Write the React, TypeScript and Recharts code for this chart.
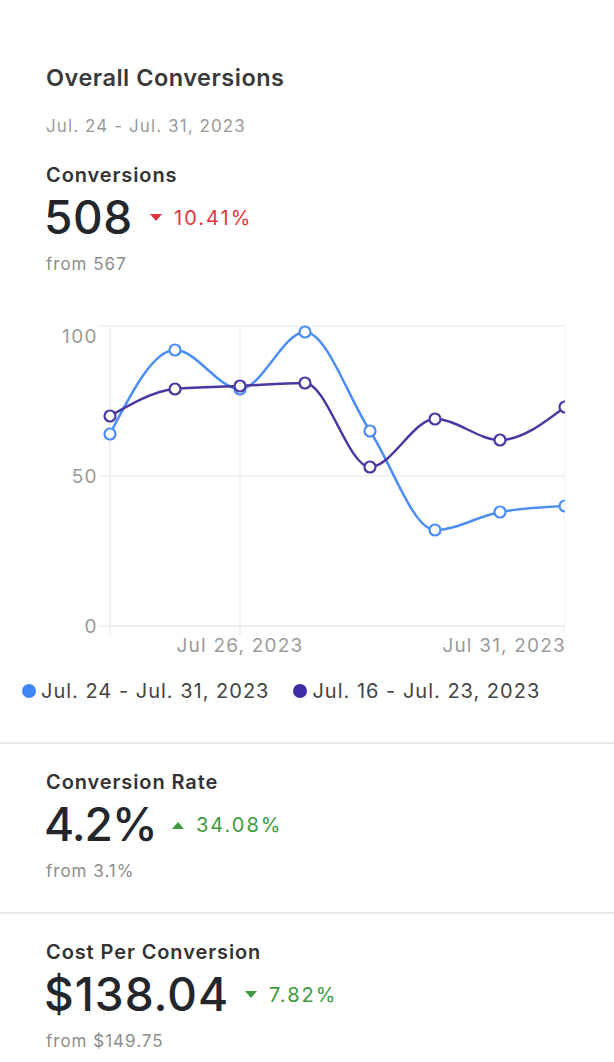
import React from 'react';
import { LineChart, Line, XAxis, YAxis, CartesianGrid } from 'recharts';

const days = [24, 25, 26, 27, 28, 29, 30, 31];
const currentSeries = [64, 92, 79, 98, 65, 32, 38, 40];
const previousSeries = [70, 79, 80, 81, 53, 69, 62, 73];
const xTicks = [24, 26, 31];
const yTicks = [0, 50, 100];
const seriesNames = ['Jul. 24 - Jul. 31, 2023', 'Jul. 16 - Jul. 23, 2023'];
const seriesColors = ['#4d8ef6', '#4a37a3'];
const legendColors = ['#3f86f5', '#3e2ea6'];

const data = days.map((d, i) => ({ day: d, current: currentSeries[i], previous: previousSeries[i] }));

const FONT = "Inter, 'Helvetica Neue', Helvetica, Arial, sans-serif";

const XTick = (props: any) => {
  const { x, y, payload } = props;
  if (payload.value === 24) return null;
  const last = payload.value === 31;
  return (
    <text x={last ? x + 1 : x} y={y} dy={15} textAnchor={last ? 'end' : 'middle'} fill="#9a9a9a" fontSize={19} letterSpacing={1.2} fontFamily={FONT}>
      {`Jul ${payload.value}, 2023`}
    </text>
  );
};

const YTick = (props: any) => {
  const { x, y, payload } = props;
  const top = payload.value === 100;
  return (
    <text x={x} y={y + (top ? 10 : 0)} dy={7} textAnchor="end" fill="#9a9a9a" fontSize={19} letterSpacing={1.4} fontFamily={FONT}>
      {payload.value}
    </text>
  );
};

const abs = (top: number, left: number, style: React.CSSProperties = {}): React.CSSProperties => ({
  position: 'absolute', top, left, whiteSpace: 'nowrap', ...style,
});

const Metric = ({ top, title, value, change, up, good, from, changeLeft, valueSpacing }: any) => {
  const color = good ? '#3d9a3f' : '#e2343e';
  return (
    <>
      <div style={abs(top - 13, 46, { fontSize: 20, fontWeight: 600, color: '#333', lineHeight: '26px', letterSpacing: 0.9 })}>{title}</div>
      <div style={abs(top + 16, 44, { fontSize: 46, fontWeight: 500, color: '#23262b', lineHeight: '52px', letterSpacing: valueSpacing })}>{value}</div>
      <div style={abs(top + 30, changeLeft, { fontSize: 20, color, lineHeight: '26px', display: 'flex', alignItems: 'center', letterSpacing: 2 })}>
        <svg width={12} height={8} style={{ marginRight: 12 }}>
          {up ? <polygon points="0,8 12,8 6,1" fill={color} /> : <polygon points="0,0 12,0 6,7" fill={color} />}
        </svg>
        {change}
      </div>
      <div style={abs(top + 78, 46, { fontSize: 17, color: '#8d8d8d', lineHeight: '22px', letterSpacing: 1 })}>{from}</div>
    </>
  );
};

export default function App() {
  return (
    <div style={{ position: 'absolute', top: 0, left: 0, width: 614, height: 1062, background: '#fff', fontFamily: FONT, overflow: 'hidden' }}>
      <div style={abs(64, 46, { fontSize: 23.5, fontWeight: 600, color: '#3a3a3c', lineHeight: '28px', letterSpacing: 0.5 })}>Overall Conversions</div>
      <div style={abs(115, 46, { fontSize: 17, color: '#9b9b9b', lineHeight: '22px', letterSpacing: 1.1 })}>Jul. 24 - Jul. 31, 2023</div>

      <Metric top={175} title="Conversions" value="508" change="10.41%" up={false} good={false} from="from 567" changeLeft={150} valueSpacing={0.5} />

      <div style={{ position: 'absolute', top: 316, left: 40 }}>
        <LineChart width={525} height={350} data={data} margin={{ top: 10, right: 0, bottom: 0, left: 0 }}>
          <CartesianGrid stroke="#eeeeee" strokeWidth={1.5} />
          <XAxis
            dataKey="day"
            type="number"
            domain={[24, 31]}
            ticks={xTicks}
            tick={<XTick />}
            tickSize={9}
            height={40}
            axisLine={{ stroke: '#eeeeee', strokeWidth: 1.5 }}
            tickLine={{ stroke: '#eeeeee', strokeWidth: 1.5 }}
            interval={0}
          />
          <YAxis
            domain={[0, 100]}
            ticks={yTicks}
            tick={<YTick />}
            tickSize={10}
            width={70}
            axisLine={{ stroke: '#eeeeee', strokeWidth: 1.5 }}
            tickLine={{ stroke: '#eeeeee', strokeWidth: 1.5 }}
            interval={0}
          />
          <Line
            type="monotone"
            dataKey="current"
            stroke={seriesColors[0]}
            strokeWidth={2.5}
            dot={{ r: 5.5, fill: '#fff', stroke: seriesColors[0], strokeWidth: 2.2 }}
            isAnimationActive={false}
          />
          <Line
            type="monotone"
            dataKey="previous"
            stroke={seriesColors[1]}
            strokeWidth={2.5}
            dot={{ r: 5.5, fill: '#fff', stroke: seriesColors[1], strokeWidth: 2.2 }}
            isAnimationActive={false}
          />
        </LineChart>
      </div>

      <div style={abs(678, 22, { display: 'flex', alignItems: 'center', fontSize: 20, color: '#444', lineHeight: '26px', letterSpacing: 1 })}>
        {seriesNames.map((n, i) => (
          <div key={n} style={{ display: 'flex', alignItems: 'center', marginRight: i === 0 ? 24 : 0 }}>
            <span style={{ width: 14, height: 14, borderRadius: 7, background: legendColors[i], display: 'inline-block', marginRight: 5 }} />
            {n}
          </div>
        ))}
      </div>

      <div style={{ position: 'absolute', top: 742, left: 0, width: 614, height: 2, background: '#e9e9e9' }} />
      <Metric top={782} title="Conversion Rate" value="4.2%" change="34.08%" up={true} good={true} from="from 3.1%" changeLeft={172} valueSpacing={-1} />
      <div style={{ position: 'absolute', top: 912, left: 0, width: 614, height: 2, background: '#e9e9e9' }} />
      <Metric top={952} title="Cost Per Conversion" value="$138.04" change="7.82%" up={false} good={true} from="from $149.75" changeLeft={245} valueSpacing={1} />
    </div>
  );
}
